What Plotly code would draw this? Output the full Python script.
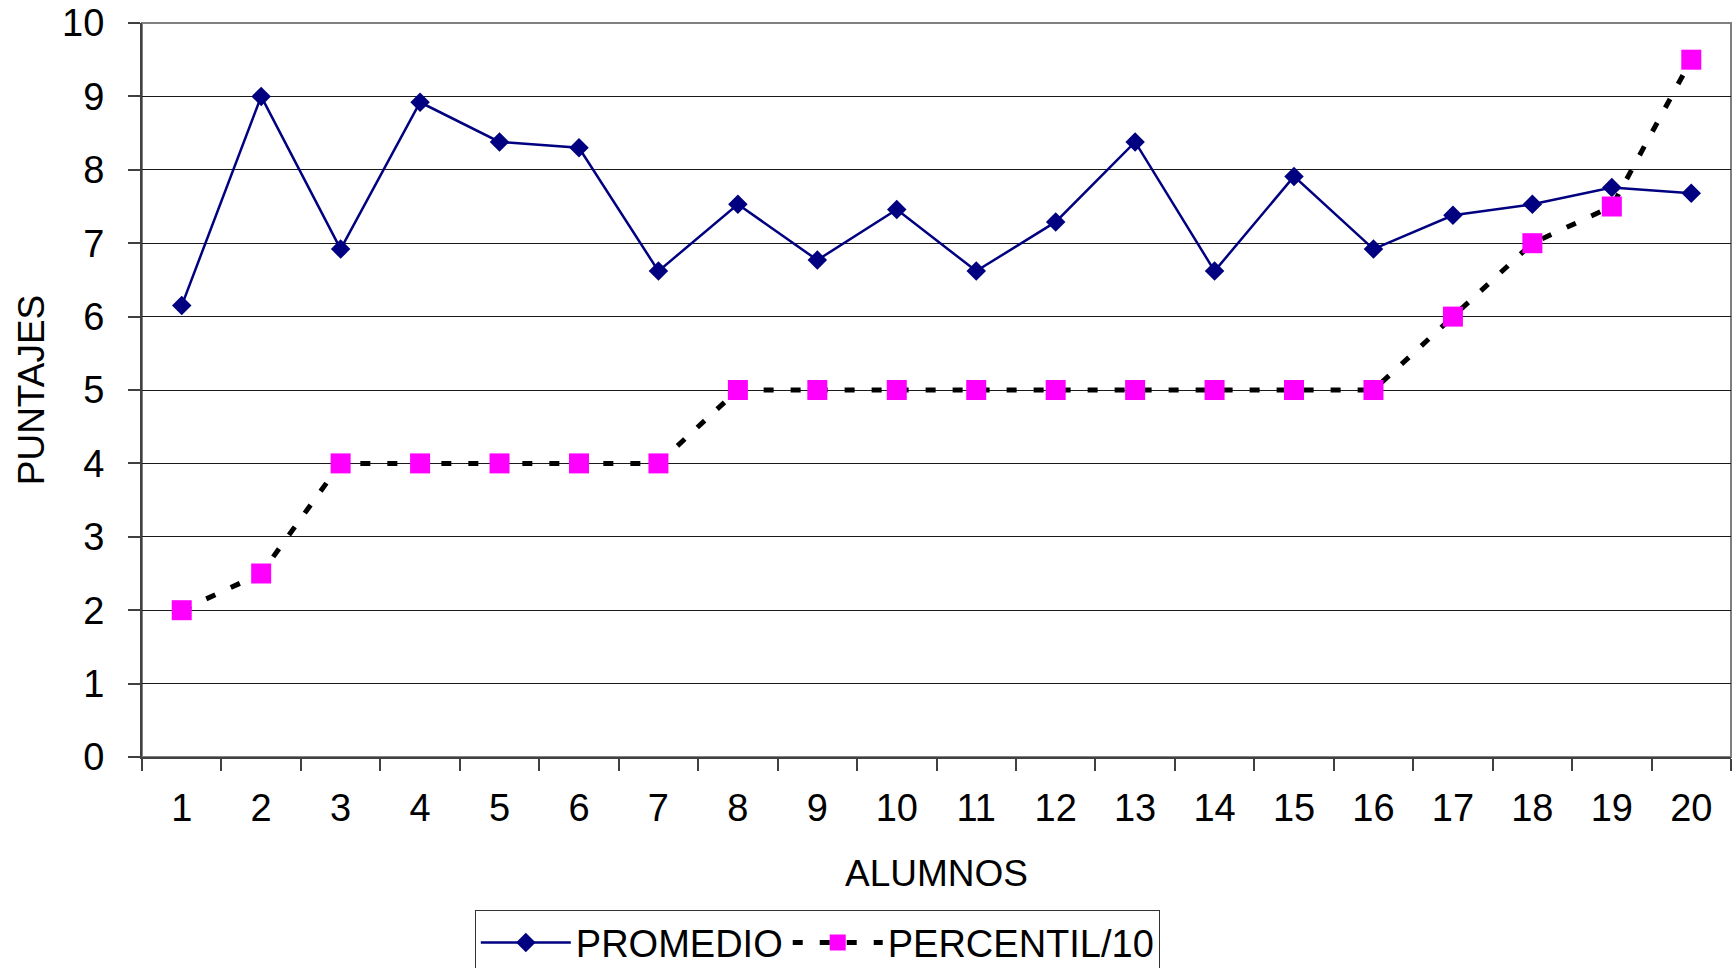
import plotly.graph_objects as go

alumnos = [str(i) for i in range(1, 21)]
promedio = [6.15, 9.0, 6.92, 8.92, 8.38, 8.30, 6.62, 7.53, 6.77, 7.46,
            6.62, 7.29, 8.38, 6.62, 7.91, 6.92, 7.38, 7.53, 7.76, 7.68]
percentil = [2, 2.5, 4, 4, 4, 4, 4, 5, 5, 5, 5, 5, 5, 5, 5, 5, 6, 7, 7.5, 9.5]
y_ticks = list(range(0, 11))

FONT = "Liberation Sans, Arial, sans-serif"

fig = go.Figure()
fig.add_trace(go.Scatter(
    x=alumnos, y=promedio, name="PROMEDIO", mode="lines+markers",
    line=dict(color="#000080", width=2.5),
    marker=dict(symbol="diamond", size=15, color="#000080", line=dict(width=0)),
))
fig.add_trace(go.Scatter(
    x=alumnos, y=percentil, name="PERCENTIL/10", mode="lines+markers",
    line=dict(color="#000000", width=5, dash="10px,17px"),
    marker=dict(symbol="square", size=20, color="#FF00FF", line=dict(width=0)),
))

fig.add_shape(type="rect", xref="paper", yref="paper", x0=0, x1=1, y0=0, y1=1,
              line=dict(color="#808080", width=2), layer="below")

fig.update_layout(
    width=1735, height=968,
    margin=dict(l=142, r=4, t=23, b=211, autoexpand=False),
    paper_bgcolor="white", plot_bgcolor="white",
    font=dict(family=FONT, size=38, color="black"),
    showlegend=True,
    legend=dict(
        orientation="h", x=0.425, xanchor="center", y=-0.209, yanchor="top",
        bordercolor="#333333", borderwidth=1, bgcolor="white",
        font=dict(family=FONT, size=38, color="black"),
        itemwidth=90, tracegroupgap=0,
    ),
    xaxis=dict(
        type="category", range=[-0.5, 19.5], automargin=False,
        tickson="boundaries", ticks="outside", ticklen=12, tickcolor="#404040", tickwidth=2,
        showline=True, linecolor="#404040", linewidth=2,
        showgrid=False, zeroline=False,
        tickfont=dict(family=FONT, size=38, color="black"),
        ticklabelstandoff=16,
        title=dict(text="ALUMNOS", font=dict(family=FONT, size=37, color="black"), standoff=33),
    ),
    yaxis=dict(
        range=[0, 10], tickvals=y_ticks, ticktext=[str(v) for v in y_ticks], automargin=False,
        ticks="outside", ticklen=12, tickcolor="#404040", tickwidth=2,
        showline=True, linecolor="#404040", linewidth=2,
        showgrid=True, gridcolor="#1a1a1a", gridwidth=1,
        zeroline=False,
        tickfont=dict(family=FONT, size=38, color="black"),
        ticklabelstandoff=16,
        title=dict(text="PUNTAJES", font=dict(family=FONT, size=37, color="black"), standoff=6),
    ),
)

fig.write_html("out.html", config={"displayModeBar": False},
               post_script="document.body.style.margin='0';document.body.style.overflow='hidden';")
